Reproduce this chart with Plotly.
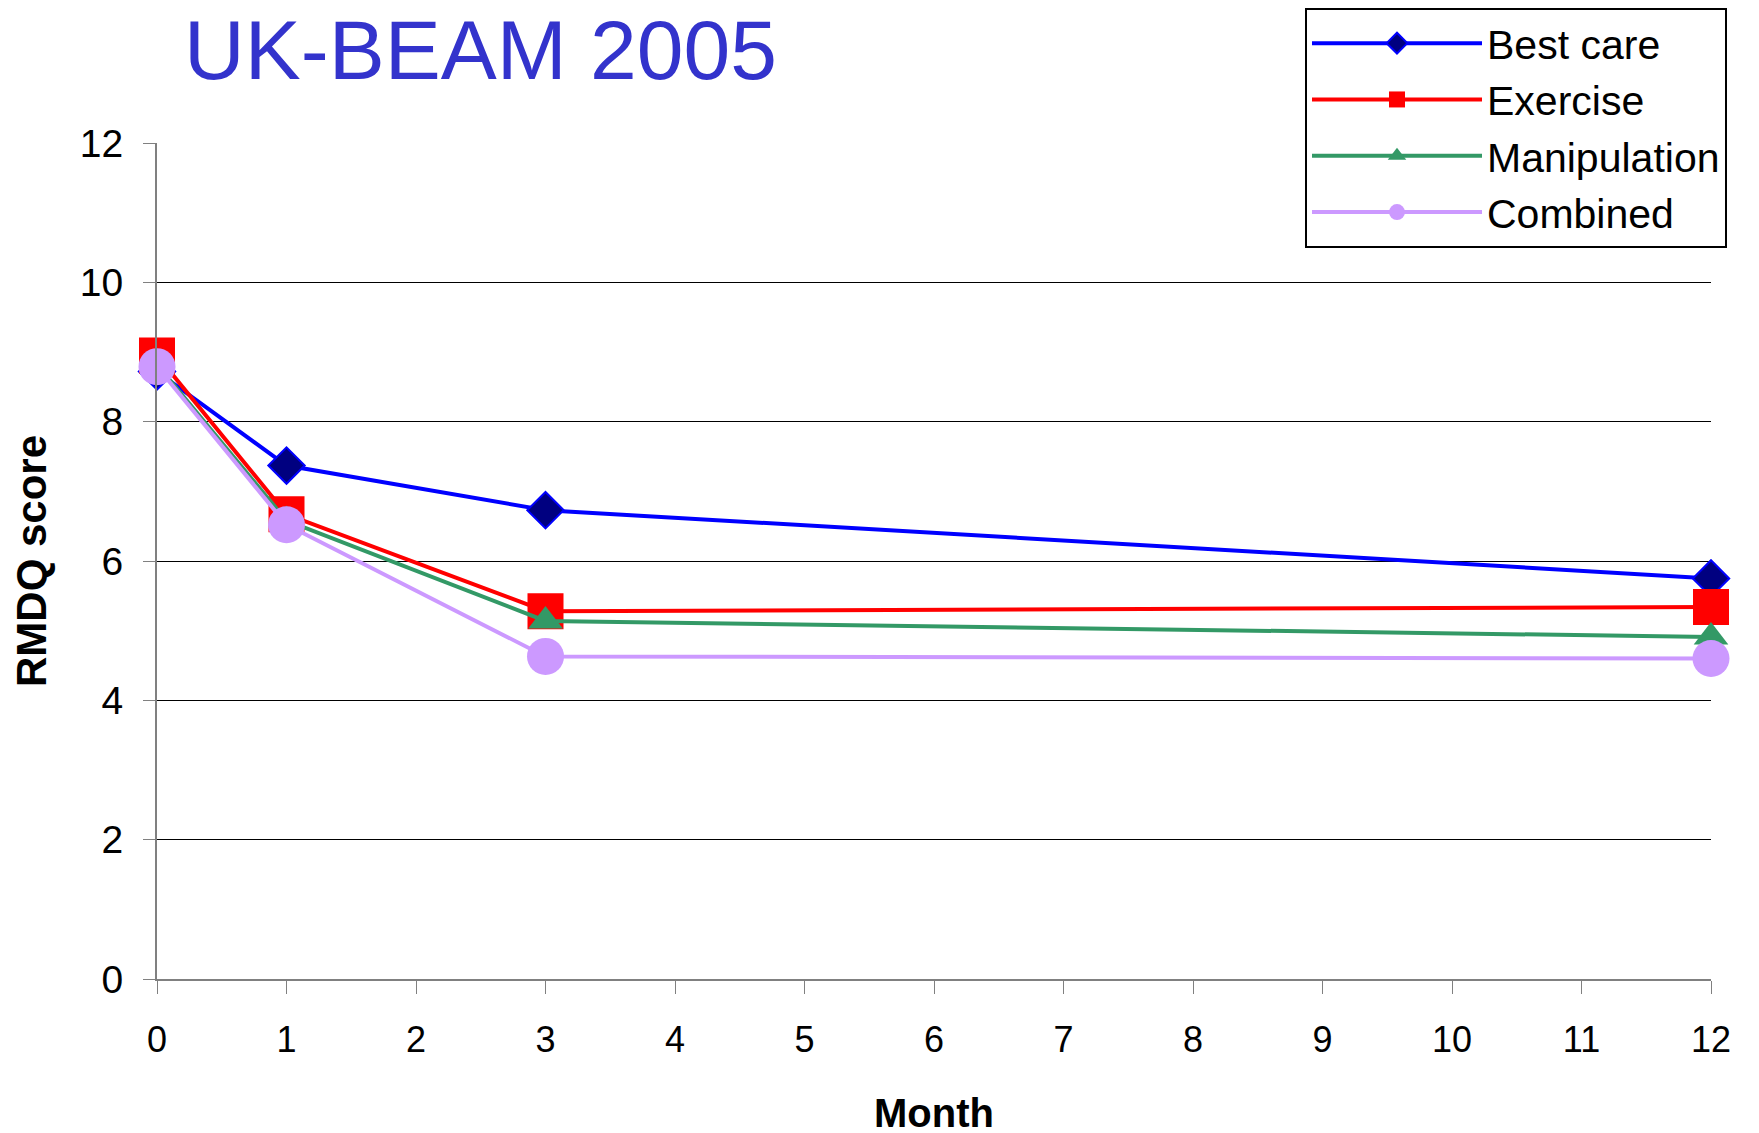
import plotly.graph_objects as go

months = [0, 1, 3, 12]
best_care = [8.72, 7.37, 6.73, 5.75]
exercise = [8.95, 6.67, 5.28, 5.34]
manipulation = [8.82, 6.58, 5.14, 4.91]
combined = [8.79, 6.52, 4.63, 4.60]

x_ticks = list(range(0, 13))
y_ticks = [0, 2, 4, 6, 8, 10, 12]

FONT = "Arial, Liberation Sans, sans-serif"

fig = go.Figure()
series = [
    ("Best care", best_care, "#0000FF", dict(symbol="diamond", size=28, color="#000080", line=dict(color="#0000FF", width=2))),
    ("Exercise", exercise, "#FF0000", dict(symbol="square", size=36, color="#FF0000", line=dict(width=0))),
    ("Manipulation", manipulation, "#339966", dict(symbol="triangle-up", size=30, color="#339966", line=dict(width=0))),
    ("Combined", combined, "#CC99FF", dict(symbol="circle", size=37, color="#CC99FF", line=dict(width=0))),
]
for name, vals, col, mk in series:
    fig.add_trace(go.Scatter(x=months, y=vals, name=name, mode="lines+markers",
                             line=dict(color=col, width=4), marker=mk, cliponaxis=False))

fig.update_layout(
    width=1759, height=1133,
    paper_bgcolor="white", plot_bgcolor="white",
    margin=dict(l=149, r=56, t=135, b=162, autoexpand=False),
    font=dict(family=FONT, color="black"),
    title=dict(text="UK-BEAM 2005", font=dict(size=84, color="#3333CC", family=FONT),
               x=176/1759, xanchor="left", xref="container", y=1-42/1133, yanchor="middle",
               yref="container"),
    legend=dict(xref="container", yref="container", x=1297/1759, y=1.0,
                xanchor="left", yanchor="top", bordercolor="black", borderwidth=2,
                bgcolor="white", font=dict(size=41, family=FONT), itemwidth=170,
                tracegroupgap=0),
    showlegend=True,
)
fig.update_xaxes(range=[0, 12], tickvals=x_ticks, ticktext=[str(v) for v in x_ticks],
                 automargin=False,
                 showgrid=False, zeroline=False, showline=True, linecolor="#808080", linewidth=2,
                 ticks="outside", ticklen=13, tickcolor="#808080", tickwidth=1,
                 tickfont=dict(size=36), ticklabelstandoff=15,
                 title=dict(text="<b>Month</b>", font=dict(size=40), standoff=40))
fig.update_yaxes(range=[0, 12], tickvals=y_ticks, ticktext=[str(v) for v in y_ticks],
                 automargin=False,
                 showgrid=True, gridcolor="#000000", gridwidth=1, zeroline=False,
                 showline=True, linecolor="#808080", linewidth=2,
                 ticks="outside", ticklen=12, tickcolor="#808080", tickwidth=1,
                 tickfont=dict(size=39), ticklabelstandoff=12,
                 title=dict(text="<b>RMDQ score</b>", font=dict(size=42), standoff=20))

fig.write_html("out.html")
